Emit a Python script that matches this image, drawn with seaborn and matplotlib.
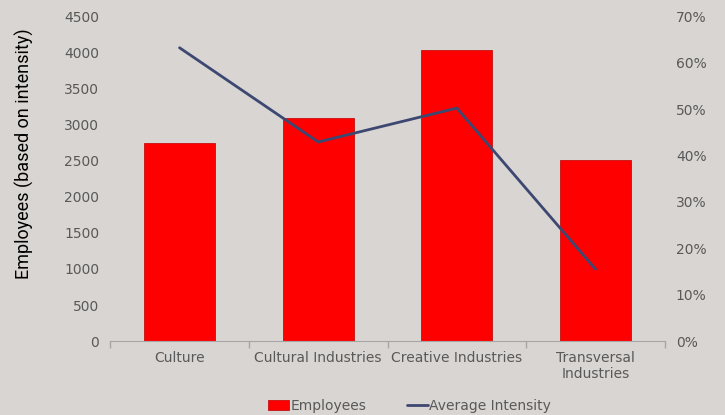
import matplotlib
matplotlib.use("Agg")
import matplotlib.pyplot as plt
import seaborn as sns
import pandas as pd
from matplotlib.ticker import FuncFormatter, FixedLocator
from matplotlib.patches import Patch
from matplotlib.lines import Line2D

categories = ["Culture", "Cultural Industries", "Creative Industries", "Transversal\nIndustries"]
employees = [2745, 3095, 4035, 2510]
avg_intensity = [0.632, 0.429, 0.502, 0.155]

bg = "#d9d5d2"
bar_color = "#ff0000"
line_color = "#3d4872"
text_color = "#595959"

sns.set_style("white")
plt.rcParams["font.family"] = ["DejaVu Sans"]

fig = plt.figure(figsize=(7.25, 4.15), dpi=100, facecolor=bg)
ax = fig.add_axes([0.152, 0.178, 0.765, 0.783])
ax.set_facecolor(bg)

df = pd.DataFrame({"category": categories, "employees": employees, "intensity": avg_intensity})
sns.barplot(data=df, x="category", y="employees", color=bar_color, width=0.51,
            edgecolor="#c81010", linewidth=0.6, saturation=1, ax=ax)
ax.set_xlim(-0.5, 3.5)
ax.set_ylim(0, 4500)
ax.set_yticks(range(0, 4501, 500))
ax.set_xlabel("")
ax.set_ylabel("")
fig.text(0.034, 0.63, "Employees (based on intensity)", rotation=90, ha="center", va="center",
         family=["Roboto", "DejaVu Sans"], fontsize=13, color="black")

ax2 = ax.twinx()
sns.lineplot(x=list(range(len(categories))), y=avg_intensity, color=line_color,
             linewidth=2, ax=ax2)
ax2.set_ylim(0, 0.7)
ax2.set_yticks([i / 10 for i in range(8)])
ax2.yaxis.set_major_formatter(FuncFormatter(lambda v, _: f"{v:.0%}"))

for a in (ax, ax2):
    for s in ("top", "left", "right"):
        a.spines[s].set_visible(False)
    a.spines["bottom"].set_color("#a6a6a6")
    a.tick_params(axis="y", length=0, labelsize=10, labelcolor=text_color, pad=8)
ax2.spines["bottom"].set_visible(False)

ax.tick_params(axis="x", which="major", length=0, labelsize=10, labelcolor=text_color, pad=7)
ax.xaxis.set_minor_locator(FixedLocator([-0.5, 0.5, 1.5, 2.5, 3.5]))
ax.tick_params(axis="x", which="minor", bottom=True, length=5, width=1, color="#a6a6a6",
               direction="out")

handles = [Patch(facecolor=bar_color, edgecolor="#c81010", linewidth=0.6),
           Line2D([0], [0], color=line_color, linewidth=2)]
fig.legend(handles, ["Employees", "Average Intensity"], loc="lower center",
           bbox_to_anchor=(0.565, -0.025), ncol=2, frameon=False, fontsize=10,
           labelcolor=text_color, handlelength=1.5, handleheight=0.8, handletextpad=0.1,
           columnspacing=2.9)

fig.savefig("out.png", dpi=100, facecolor=bg)
